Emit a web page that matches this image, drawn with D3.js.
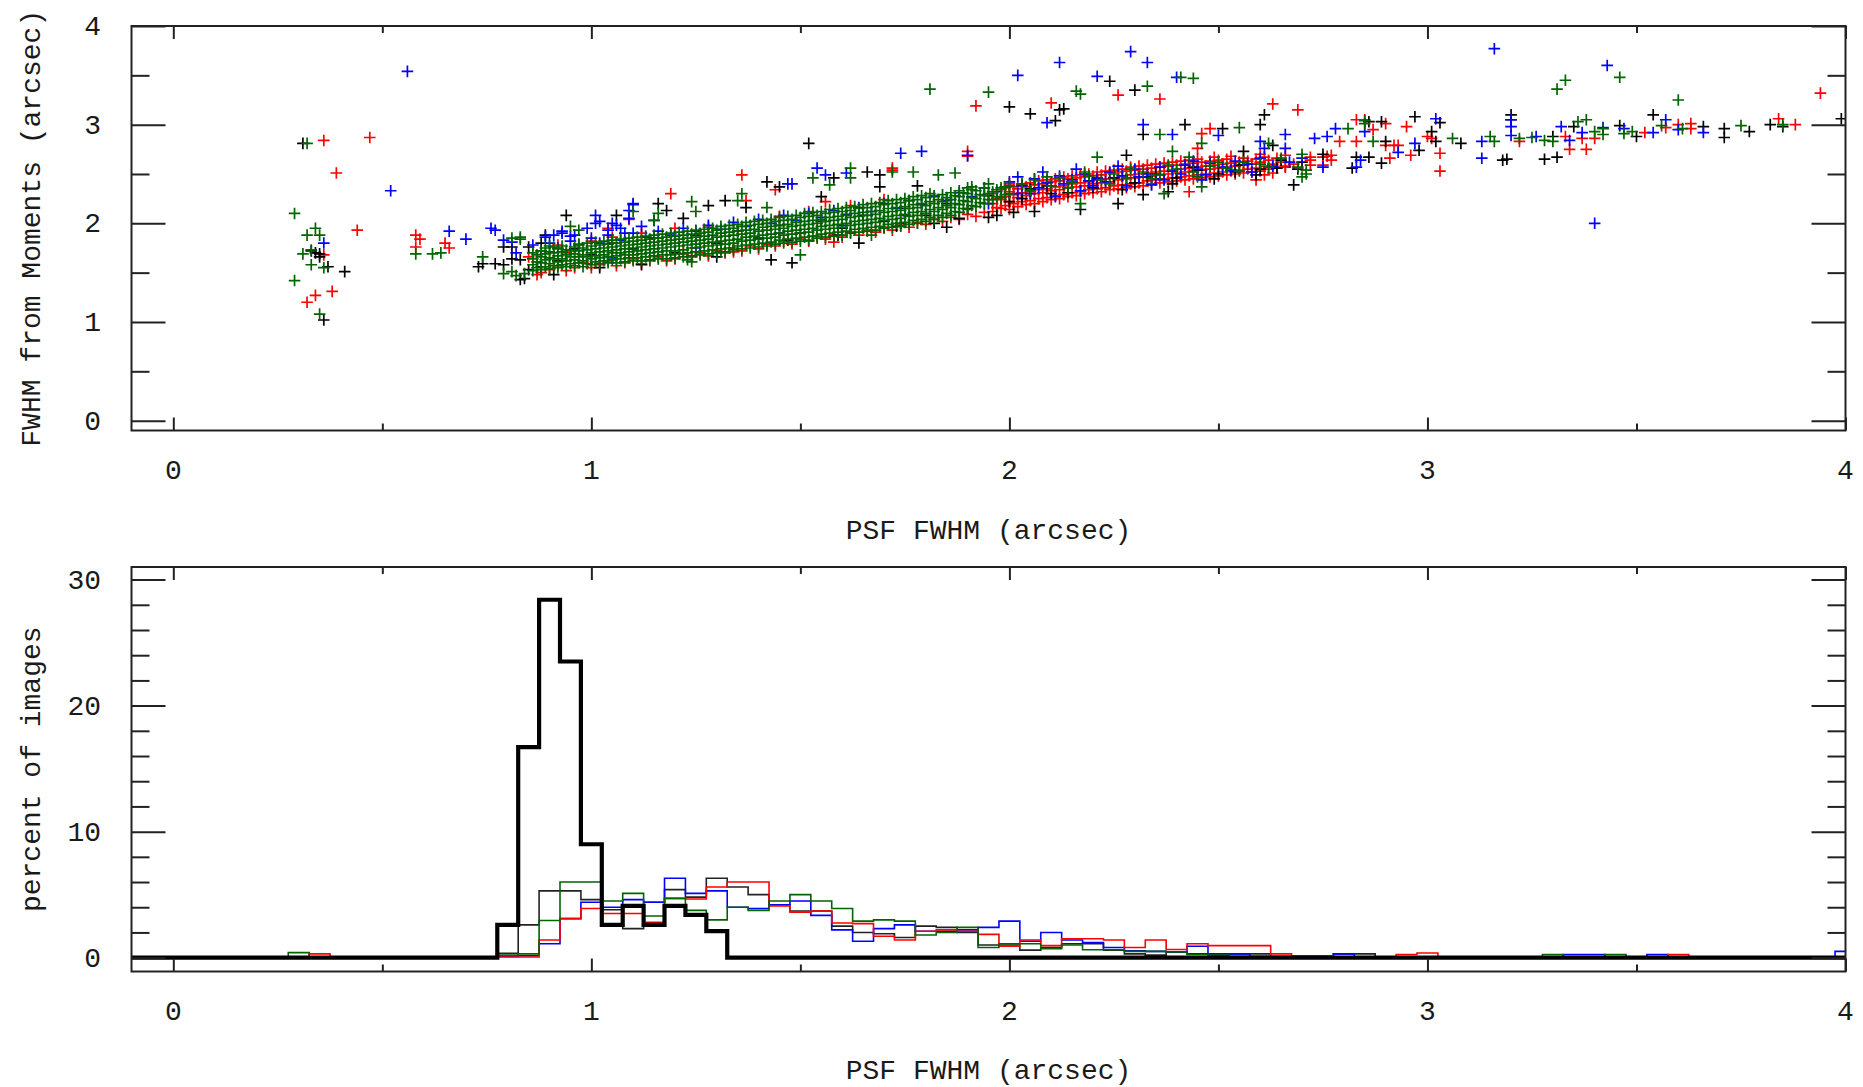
<!DOCTYPE html>
<html><head><meta charset="utf-8">
<script src="https://cdn.jsdelivr.net/npm/d3@7"></script>
<style>
html,body{margin:0;padding:0;background:#fff;}
text{font-family:"Liberation Mono","DejaVu Sans Mono",monospace;fill:#1a1a1a;font-size:28px;}
</style>
</head><body>
<svg id="chart" width="1863" height="1087"></svg>
<script>
// ---------------- axis ticks / labels ----------------
const xMajorTicks = [0, 1, 2, 3, 4];
const xMinorTicks = [0.5, 1.5, 2.5, 3.5];
const yTopMajor = [0, 1, 2, 3, 4];
const yTopMinor = [0.5, 1.5, 2.5, 3.5];
const yBotMajor = [0, 10, 20, 30];
const yBotMinor = [2, 4, 6, 8, 12, 14, 16, 18, 22, 24, 26, 28];
const xTitle = "PSF FWHM (arcsec)";
const yTopTitle = "FWHM from Moments (arcsec)";
const yBotTitle = "percent of images";

// ---------------- scatter data (x = PSF FWHM, y = moments FWHM) ----------------
const blackPts = [
0.31,2.81, 0.33,1.72, 0.35,1.69, 0.35,1.66, 0.37,1.56, 0.41,1.51, 0.36,1.02, 0.34,1.70,
0.73,1.56, 0.74,1.59, 0.79,1.58, 0.81,1.76, 0.83,1.63, 0.84,1.44, 0.85,1.76, 0.77,1.59,
0.79,1.76, 0.81,1.64, 0.83,1.43, 0.85,1.53, 0.88,1.80, 0.89,1.88, 0.94,2.08, 0.91,1.48,
1.52,2.81, 1.16,2.20, 1.18,2.13, 1.06,2.08, 1.28,2.18, 1.32,2.23, 1.42,2.42, 1.45,2.37,
1.58,2.46, 1.66,2.52, 1.43,1.63, 1.47,1.83, 1.59,1.88, 1.73,1.97,
2.00,3.18, 2.05,3.11, 2.12,3.15, 2.11,3.04, 2.30,3.35, 2.24,3.44, 2.32,2.90, 2.61,3.10,
2.60,3.00, 2.51,2.96, 2.28,2.69, 2.56,2.73, 2.68,2.39, 2.26,2.20, 2.32,2.29, 1.97,2.08,
2.01,2.11, 1.82,2.00, 1.88,2.05, 1.74,2.00, 1.69,2.49, 1.69,2.37, 2.63,2.79, 2.13,3.16,
2.82,2.56, 2.83,2.67, 2.86,2.67, 2.89,2.61, 2.90,2.83, 2.86,3.03, 2.89,3.03, 2.97,3.08,
3.03,3.02, 3.01,2.93, 3.02,2.83, 2.98,2.74, 3.08,2.81, 3.18,2.64, 3.19,2.65, 3.20,3.10,
3.20,3.05, 3.28,2.65, 3.31,2.67, 3.30,2.88, 3.35,2.98, 3.46,2.99, 3.50,2.88, 3.54,3.10,
3.66,2.98, 3.71,2.96, 3.71,2.87, 3.77,2.93, 3.82,3.00, 3.85,2.98, 3.99,3.06,
0.88,1.56, 0.92,1.62, 0.96,1.74, 1.00,1.68, 1.05,1.80, 1.10,1.74, 1.15,1.85, 1.20,1.70,
1.25,1.88, 1.30,1.80, 1.35,1.92, 1.40,1.85, 1.45,1.98, 1.50,1.90, 1.55,2.02, 1.60,1.95,
1.65,2.08, 1.70,2.02, 1.75,2.15, 1.80,2.08, 1.85,2.20, 1.90,2.15, 1.95,2.28, 2.00,2.22,
2.05,2.35, 2.10,2.30, 2.15,2.42, 2.20,2.36, 2.25,2.46, 2.30,2.41, 2.35,2.50, 2.40,2.46,
2.45,2.54, 2.50,2.50, 2.55,2.59, 2.60,2.55, 2.65,2.64, 2.70,2.62, 2.75,2.70,
1.48,1.60, 1.64,1.80, 2.06,2.12, 2.42,3.00, 1.02,1.55, 1.12,1.58, 1.30,1.66, 1.95,2.06,
1.37,2.16, 1.22,2.05, 1.55,2.27, 1.78,2.38, 1.85,1.96, 2.17,2.14, 2.38,2.32,
2.03,2.25, 2.09,2.38, 2.14,2.31, 2.21,2.45, 2.27,2.34, 2.33,2.47, 2.39,2.40, 2.44,2.57,
2.49,2.45, 2.54,2.52, 2.59,2.49, 2.64,2.56, 2.69,2.55
];

const bluePts = [
0.56,3.54, 0.52,2.33, 0.36,1.80, 0.66,1.92, 0.70,1.84, 0.76,1.95, 0.77,1.93, 0.81,1.81,
0.79,1.83, 0.82,1.70, 0.91,1.88, 0.93,1.90, 0.95,1.87, 1.01,2.08, 1.02,2.02, 1.10,2.20,
1.09,2.13, 1.05,2.00, 1.07,1.95, 1.08,1.90, 1.54,2.56, 1.56,2.49, 1.48,2.40, 1.61,2.51,
1.74,2.71, 1.79,2.73, 1.90,2.69, 1.10,2.19, 1.15,2.03, 1.47,2.40,
2.29,3.74, 2.12,3.63, 2.33,3.63, 2.02,3.50, 2.21,3.49, 2.40,3.48, 2.09,3.02, 2.32,3.00,
2.39,2.90, 2.50,2.89, 2.60,2.83, 2.66,2.90, 3.16,3.77, 3.43,3.60, 3.40,2.00,
2.61,2.76, 2.66,2.76, 2.73,2.86, 2.76,2.88, 2.78,2.96, 2.75,2.57, 2.83,2.57, 2.84,2.64,
2.85,2.93, 2.93,2.72, 2.97,2.81, 3.02,3.06, 3.13,2.83, 3.13,2.66, 3.20,3.05, 3.20,2.98,
3.20,2.89, 3.26,2.88, 3.32,2.98, 3.34,2.84, 3.37,2.92, 3.42,2.97, 3.47,2.96, 3.54,2.92,
3.57,3.05, 3.60,2.95, 3.66,2.92,
0.86,1.78, 0.88,1.72, 0.90,1.80, 0.92,1.75, 0.95,1.82, 0.97,1.78, 1.00,1.85, 1.02,1.80,
1.04,1.88, 1.07,1.83, 1.10,1.90, 1.13,1.86, 1.16,1.92, 1.19,1.88, 1.22,1.95, 1.25,1.92,
1.28,1.98, 1.31,1.94, 1.34,2.01, 1.37,1.97, 1.40,2.04, 1.43,2.00, 1.46,2.08, 1.49,2.03,
1.52,2.10, 1.55,2.06, 1.58,2.13, 1.61,2.09, 1.64,2.16, 1.67,2.12, 1.70,2.20, 1.73,2.15,
1.76,2.23, 1.79,2.19, 1.82,2.27, 1.85,2.23, 1.88,2.31, 1.91,2.27, 1.94,2.36, 1.97,2.32,
2.00,2.42, 2.03,2.38, 2.06,2.45, 2.09,2.41, 2.12,2.48, 2.15,2.44, 2.18,2.50, 2.21,2.46,
2.24,2.52, 2.27,2.48, 2.30,2.55, 2.33,2.50, 2.36,2.57, 2.39,2.53, 2.42,2.59, 2.45,2.55,
2.48,2.61, 2.51,2.57, 2.54,2.63, 2.57,2.60, 2.60,2.66,
1.05,1.65, 1.25,1.75, 1.45,1.90, 1.60,1.98, 1.75,2.08, 1.95,2.20, 2.05,2.30, 2.20,2.38,
2.35,2.45, 0.89,1.86, 0.93,1.92, 0.96,1.88, 0.99,1.95, 1.01,2.00, 1.04,1.93, 1.06,1.98,
1.09,2.05, 1.12,1.97, 2.08,2.52, 2.16,2.55, 2.26,2.58, 2.02,2.47, 2.44,2.63,
2.02,2.30, 2.07,2.36, 2.13,2.40, 2.17,2.33, 2.23,2.42, 2.28,2.38, 2.31,2.47, 2.37,2.44,
2.41,2.50, 2.47,2.49, 2.53,2.54, 2.58,2.52, 2.63,2.58, 2.67,2.62, 2.70,2.66, 2.11,2.27,
2.19,2.43, 2.34,2.39, 2.46,2.44
];

const redPts = [
0.36,2.84, 0.47,2.87, 0.39,2.51, 0.44,1.93, 0.36,1.68, 0.32,1.20, 0.34,1.27, 0.38,1.31,
0.58,1.88, 0.59,1.84, 0.58,1.76, 0.65,1.80, 0.66,1.75,
1.36,2.49, 1.19,2.30, 1.37,2.23, 1.04,1.95, 1.09,2.04, 0.94,1.70, 0.85,1.66, 0.87,1.48,
1.44,2.34, 1.56,2.22, 1.72,2.54, 1.58,1.81, 1.34,1.71, 1.42,1.79,
1.92,3.19, 2.10,3.22, 2.26,3.30, 2.36,3.26, 2.63,3.21, 2.69,3.15, 1.90,2.73, 1.90,2.68,
2.48,2.96, 2.46,2.91, 2.45,2.76, 1.72,2.56, 2.85,3.05, 2.87,2.95, 2.83,2.83, 2.92,2.79,
2.91,2.66, 2.75,2.67, 2.77,2.69, 2.77,2.64, 2.72,2.67, 2.72,2.64, 2.43,2.32,
2.83,3.05, 2.90,3.01, 2.95,2.98, 3.00,2.88, 3.01,2.86, 3.03,2.71, 3.03,2.53, 2.96,2.69,
2.72,2.59, 2.76,2.68, 2.75,2.59, 2.59,2.44, 2.61,2.49, 2.63,2.51, 2.66,2.57, 2.79,2.83,
2.90,2.79, 2.93,2.79, 3.22,2.83, 3.34,2.75, 3.38,2.75, 3.33,2.88, 3.37,2.86, 3.40,2.86,
3.52,2.92, 3.57,2.97, 3.60,3.00, 3.63,3.01, 3.84,3.06, 3.88,3.00, 3.94,3.32, 3.63,2.96,
0.88,1.50, 0.90,1.53, 0.92,1.57, 0.94,1.52, 0.96,1.55, 0.98,1.60, 1.00,1.55, 1.02,1.58,
1.04,1.62, 1.06,1.57, 1.08,1.60, 1.10,1.64, 1.12,1.59, 1.14,1.62, 1.16,1.66, 1.18,1.62,
1.20,1.64, 1.22,1.69, 1.24,1.66, 1.26,1.70, 1.28,1.67, 1.30,1.72, 1.32,1.70, 1.34,1.75,
1.36,1.72, 1.38,1.77, 1.40,1.74, 1.42,1.79, 1.44,1.77, 1.46,1.82, 1.48,1.79, 1.50,1.84,
1.52,1.82, 1.54,1.87, 1.56,1.84, 1.58,1.88, 1.60,1.86, 1.62,1.91, 1.64,1.88, 1.66,1.93,
1.68,1.91, 1.70,1.96, 1.72,1.93, 1.74,1.98, 1.76,1.96, 1.78,2.01, 1.80,1.99, 1.82,2.04,
1.84,2.02, 1.86,2.06, 1.88,2.04, 1.90,2.09, 1.92,2.07, 1.94,2.11,
0.92,1.78, 1.00,1.82, 1.05,1.86, 1.12,1.90, 1.20,1.95, 1.28,1.96, 1.45,2.07, 1.52,2.12,
1.62,2.18, 1.70,2.24
];
// dense red columns: [x, y1, y2, ...]
const redCols = [
[1.96,2.12,2.20,2.30],[1.98,2.15,2.24,2.34],[2.00,2.14,2.22,2.32,2.40],[2.02,2.17,2.26,2.35],
[2.04,2.19,2.28,2.37],[2.06,2.20,2.30,2.39],[2.08,2.22,2.31,2.40],[2.10,2.24,2.33,2.42],
[2.12,2.25,2.34,2.43],[2.14,2.27,2.36,2.45],[2.16,2.28,2.37,2.46],[2.18,2.30,2.38,2.47],
[2.20,2.31,2.40,2.48],[2.22,2.32,2.41,2.49],[2.24,2.34,2.42,2.51],[2.26,2.35,2.44,2.52],
[2.28,2.36,2.45,2.53],[2.30,2.37,2.46,2.54],[2.32,2.38,2.47,2.55],[2.34,2.40,2.48,2.56],
[2.36,2.41,2.49,2.57],[2.38,2.42,2.50,2.58],[2.40,2.43,2.51,2.59],[2.42,2.44,2.52,2.60],
[2.44,2.45,2.53,2.61],[2.46,2.46,2.54,2.62],[2.48,2.47,2.55,2.63],[2.50,2.48,2.56,2.64],
[2.52,2.49,2.57,2.65],[2.54,2.50,2.58],[2.56,2.51,2.59,2.66],[2.58,2.52,2.60],
[2.60,2.53,2.62,2.70],[2.62,2.55,2.64],[2.64,2.57,2.66],[2.66,2.58,2.69],[2.68,2.60],
[1.97,2.16,2.25],[1.99,2.18,2.27,2.36],[2.01,2.20,2.29,2.37],[2.03,2.22,2.31,2.39],
[2.05,2.23,2.32,2.41],[2.07,2.25,2.34,2.43],[2.09,2.26,2.35,2.44],[2.11,2.28,2.37,2.45],
[2.13,2.29,2.38,2.47],[2.15,2.31,2.40,2.48],[2.17,2.32,2.41,2.49],[2.19,2.34,2.42,2.50],
[2.21,2.35,2.44,2.52],[2.23,2.36,2.45,2.53],[2.25,2.38,2.46,2.54],[2.27,2.39,2.48,2.55],
[2.29,2.40,2.49,2.57],[2.31,2.41,2.50,2.58],[2.33,2.43,2.51,2.59],[2.35,2.44,2.52,2.60],
[2.37,2.45,2.53,2.61],[2.39,2.46,2.54,2.62],[2.41,2.47,2.55,2.63],[2.43,2.48,2.56,2.64],
[2.45,2.49,2.57,2.65],[2.47,2.50,2.58],[2.49,2.51,2.59,2.67],[2.51,2.52,2.60],
[2.53,2.53,2.61,2.68],[2.55,2.54,2.62],[2.57,2.55,2.63],[2.59,2.56,2.65],[2.61,2.58,2.67],
[2.63,2.60],[2.65,2.62]
];

const greenPts = [
0.29,2.10, 0.29,1.42, 0.32,2.81, 0.34,1.95, 0.32,1.88, 0.35,1.88, 0.31,1.69, 0.33,1.58,
0.36,1.55, 0.35,1.08, 0.33,1.73, 0.58,1.69, 0.62,1.69, 0.64,1.70, 0.74,1.66, 0.79,1.49,
0.81,1.51, 0.82,1.47, 0.84,1.49, 0.83,1.84, 0.81,1.85, 0.83,1.86, 0.95,1.97, 0.97,1.93,
1.10,2.12, 1.15,2.03, 1.16,2.10, 1.24,2.22, 1.25,2.12, 1.35,2.23, 1.36,2.30, 1.42,2.16,
1.53,2.46, 1.57,2.39, 1.62,2.56, 1.62,2.46, 1.67,1.88, 1.50,1.68, 1.23,1.63, 1.24,1.61,
1.31,1.71, 1.72,2.52, 1.77,2.52, 1.83,2.49, 1.87,2.51, 1.91,2.37, 1.95,2.40,
1.81,3.36, 1.95,3.33, 2.16,3.34, 2.17,3.31, 2.33,3.39, 2.39,2.73, 2.36,2.90, 2.55,2.97,
2.46,2.81, 2.43,2.67, 2.71,2.54, 2.70,2.47, 2.85,3.01, 2.87,2.83, 2.17,2.20, 2.21,2.67,
2.37,2.30, 2.46,2.37, 2.41,3.48, 2.44,3.47,
2.81,2.96, 2.85,3.04, 2.69,2.57, 2.71,2.50, 2.62,2.81, 3.15,2.88, 3.16,2.83, 3.22,2.86,
3.25,2.87, 3.28,2.84, 3.30,2.83, 3.36,3.03, 3.38,3.05, 3.40,2.93, 3.42,2.96, 3.47,2.91,
3.49,2.93, 3.56,2.99, 3.61,2.96, 3.75,2.99, 3.85,3.00, 3.06,2.86, 3.31,3.36, 3.33,3.45,
3.46,3.48, 3.60,3.25, 3.42,2.90,
2.03,2.40, 2.06,2.44, 2.10,2.38, 2.12,2.46, 2.15,2.42, 2.19,2.48, 2.22,2.44, 2.25,2.50,
2.28,2.46, 2.32,2.52, 2.36,2.49, 2.40,2.55, 2.44,2.52, 2.48,2.58, 2.52,2.56, 2.56,2.62,
2.60,2.60, 2.65,2.66, 2.70,2.70,
2.05,2.33, 2.09,2.47, 2.14,2.36, 2.18,2.52, 2.24,2.40, 2.29,2.55, 2.34,2.45, 2.38,2.59,
2.45,2.47, 2.50,2.62, 2.55,2.53, 2.62,2.57
];
// dense green columns: [x, y1, y2, ...]
const greenCols = [
[0.86,1.52,1.58,1.64,1.70],[0.88,1.53,1.60,1.66,1.72],[0.90,1.54,1.59,1.65,1.71,1.77],
[0.92,1.55,1.61,1.67,1.74],[0.94,1.56,1.62,1.68,1.73],[0.96,1.57,1.63,1.69,1.76],
[0.98,1.56,1.62,1.68,1.75],[1.00,1.58,1.64,1.70,1.77],[1.02,1.59,1.65,1.71,1.78],
[1.04,1.60,1.66,1.72,1.79],[1.06,1.60,1.67,1.73,1.80],[1.08,1.61,1.68,1.74,1.81],
[1.10,1.62,1.68,1.75,1.82],[1.12,1.62,1.69,1.76,1.83],[1.14,1.63,1.70,1.77,1.84],
[1.16,1.64,1.71,1.78,1.85],[1.18,1.64,1.72,1.79,1.86],[1.20,1.65,1.72,1.80,1.87],
[1.22,1.66,1.73,1.81,1.88],[1.24,1.67,1.75,1.82,1.89],[1.26,1.68,1.76,1.83,1.90],
[1.28,1.69,1.77,1.84,1.91],[1.30,1.70,1.78,1.86,1.93],[1.32,1.71,1.79,1.87,1.94],
[1.34,1.73,1.80,1.88,1.95],[1.36,1.74,1.82,1.89,1.97],[1.38,1.75,1.83,1.90,1.98],
[1.40,1.76,1.84,1.92,1.99],[1.42,1.77,1.85,1.93,2.00],[1.44,1.79,1.86,1.94,2.02],
[1.46,1.80,1.88,1.95,2.03],[1.48,1.81,1.89,1.97,2.04],[1.50,1.82,1.90,1.98,2.06],
[1.52,1.83,1.91,1.99,2.07],[1.54,1.85,1.93,2.00,2.08],[1.56,1.86,1.94,2.02,2.10],
[1.58,1.87,1.95,2.03,2.11],[1.60,1.88,1.96,2.04,2.12],[1.62,1.90,1.98,2.06,2.13],
[1.64,1.91,1.99,2.07,2.15],[1.66,1.92,2.00,2.08,2.16],[1.68,1.93,2.01,2.09,2.17],
[1.70,1.95,2.03,2.11,2.19],[1.72,1.96,2.04,2.12,2.20],[1.74,1.97,2.05,2.13,2.21],
[1.76,1.99,2.07,2.15,2.23],[1.78,2.00,2.08,2.16,2.24],[1.80,2.02,2.10,2.18,2.26],
[1.82,2.04,2.12,2.20,2.28],[1.84,2.06,2.14,2.22,2.29],[1.86,2.08,2.16,2.24,2.31],
[1.88,2.11,2.19,2.27,2.33],[1.90,2.14,2.22,2.30,2.36],[1.92,2.17,2.25,2.33],
[1.94,2.20,2.28,2.36],[1.96,2.24,2.32],[1.98,2.26,2.36],[2.00,2.30,2.38],
[0.87,1.55,1.61,1.68],[0.89,1.56,1.63,1.69,1.75],[0.91,1.57,1.64,1.70,1.76],
[0.93,1.58,1.64,1.71,1.77],[0.95,1.59,1.66,1.72],[0.97,1.60,1.66,1.72,1.79],
[0.99,1.59,1.66,1.73,1.80],[1.01,1.61,1.67,1.74,1.81],[1.03,1.62,1.68,1.75,1.82],
[1.05,1.63,1.70,1.76,1.83],[1.07,1.64,1.70,1.77,1.84],[1.09,1.65,1.71,1.78,1.85],
[1.11,1.65,1.72,1.79,1.86],[1.13,1.66,1.73,1.80,1.87],[1.15,1.67,1.74,1.81,1.88],
[1.17,1.68,1.75,1.82,1.89],[1.19,1.68,1.76,1.83,1.90],[1.21,1.69,1.77,1.84,1.91],
[1.23,1.70,1.78,1.85,1.92],[1.25,1.71,1.79,1.86,1.93],[1.27,1.72,1.80,1.87,1.94],
[1.29,1.73,1.81,1.88,1.95],[1.31,1.74,1.82,1.90,1.97],[1.33,1.75,1.83,1.91,1.98],
[1.35,1.77,1.84,1.92,1.99],[1.37,1.78,1.86,1.93,2.01],[1.39,1.79,1.87,1.94,2.02],
[1.41,1.80,1.88,1.96,2.03],[1.43,1.81,1.89,1.97,2.04],[1.45,1.83,1.90,1.98,2.06],
[1.47,1.84,1.92,1.99,2.07],[1.49,1.85,1.93,2.01,2.08],[1.51,1.86,1.94,2.02,2.10],
[1.53,1.87,1.95,2.03,2.11],[1.55,1.89,1.97,2.04,2.12],[1.57,1.90,1.98,2.06,2.14],
[1.59,1.91,1.99,2.07,2.15],[1.61,1.92,2.00,2.08,2.16],[1.63,1.94,2.02,2.10,2.17],
[1.65,1.95,2.03,2.11,2.19],[1.67,1.96,2.04,2.12,2.20],[1.69,1.97,2.05,2.13,2.21],
[1.71,1.99,2.07,2.15,2.23],[1.73,2.00,2.08,2.16,2.24],[1.75,2.01,2.09,2.17,2.25],
[1.77,2.03,2.11,2.19,2.27],[1.79,2.04,2.12,2.20,2.28],[1.81,2.06,2.14,2.22,2.30],
[1.83,2.08,2.16,2.24],[1.85,2.10,2.18,2.26],[1.87,2.12,2.20,2.28],[1.89,2.15,2.23,2.31],
[1.91,2.18,2.26,2.34],[1.93,2.21,2.29],[1.95,2.24,2.30],[1.97,2.27,2.34],[1.99,2.29,2.37]
];

// ---------------- histogram data: [bin centre, percent] (bin width 0.05; unlisted bins = 0) ----------------
const histAll = [[0.80,2.6],[0.85,16.7],[0.90,28.4],[0.95,23.5],[1.00,9.0],[1.05,2.6],[1.10,4.1],
[1.15,2.6],[1.20,4.1],[1.25,3.4],[1.30,2.1]];
const histBlack = [[0.80,0.35],[0.85,2.6],[0.90,5.3],[0.95,5.3],[1.00,4.6],[1.05,3.8],[1.10,2.3],
[1.15,4.4],[1.20,5.4],[1.25,4.8],[1.30,6.3],[1.35,5.6],[1.40,5.0],[1.45,4.2],[1.50,3.7],[1.55,3.7],
[1.60,2.5],[1.65,2.0],[1.70,1.9],[1.75,1.6],[1.80,2.5],[1.85,2.4],[1.90,2.0],[1.95,1.0],[2.00,1.0],
[2.05,0.6],[2.10,0.8],[2.15,1.1],[2.20,1.1],[2.25,0.6],[2.30,0.3],[2.35,0.2],[2.40,0.45],[2.45,0.3],
[2.50,0.3],[2.55,0.3],[2.60,0.3],[2.65,0.1],[2.70,0.1],[2.80,0.3],[2.85,0.3]];
const histRed = [[0.35,0.3],[0.80,0.05],[0.85,0.05],[0.90,1.4],[0.95,3.1],[1.00,3.9],[1.05,3.5],
[1.10,3.5],[1.15,2.8],[1.20,4.7],[1.25,4.65],[1.30,5.6],[1.35,6.0],[1.40,6.0],[1.45,4.1],[1.50,3.6],
[1.55,3.7],[1.60,2.75],[1.65,2.7],[1.70,1.7],[1.75,1.4],[1.80,2.1],[1.85,2.2],[1.90,2.1],[1.95,1.85],
[2.00,0.9],[2.05,1.4],[2.10,0.95],[2.15,1.5],[2.20,1.5],[2.25,1.4],[2.30,0.8],[2.35,1.4],[2.40,0.65],
[2.45,1.1],[2.50,0.95],[2.55,0.95],[2.60,0.95],[2.65,0.3],[2.70,0.15],[2.75,0.15],[2.95,0.25],
[3.00,0.37],[3.60,0.25]];
const histBlue = [[0.80,0.1],[0.85,0.15],[0.90,1.1],[0.95,3.1],[1.00,4.4],[1.05,4.0],[1.10,4.6],
[1.15,4.4],[1.20,6.3],[1.25,5.1],[1.30,5.3],[1.35,4.0],[1.40,3.9],[1.45,4.2],[1.50,4.5],[1.55,3.35],
[1.60,2.2],[1.65,1.3],[1.70,2.3],[1.75,2.6],[1.80,2.1],[1.85,2.1],[1.90,2.2],[1.95,2.4],[2.00,2.9],
[2.05,1.3],[2.10,2.0],[2.15,1.4],[2.20,1.2],[2.25,0.8],[2.30,0.55],[2.35,0.5],[2.40,0.45],[2.45,0.9],
[2.50,0.3],[2.55,0.3],[2.60,0.1],[2.80,0.3],[3.35,0.25],[3.40,0.25],[3.55,0.25],[4.00,0.5]];
const histGreen = [[0.30,0.4],[0.80,0.2],[0.85,0.3],[0.90,2.95],[0.95,6.0],[1.00,6.0],[1.05,4.5],
[1.10,5.1],[1.15,3.3],[1.20,4.7],[1.25,3.75],[1.30,3.0],[1.35,4.0],[1.40,3.75],[1.45,4.5],[1.50,5.0],
[1.55,4.5],[1.60,3.9],[1.65,2.9],[1.70,3.0],[1.75,2.9],[1.80,1.8],[1.85,2.0],[1.90,2.4],[1.95,0.8],
[2.00,1.1],[2.05,1.1],[2.10,0.7],[2.15,1.0],[2.20,0.63],[2.25,0.63],[2.30,0.5],[2.35,0.5],[2.40,0.45],
[2.45,0.25],[2.50,0.2],[2.55,0.1],[3.30,0.25],[3.45,0.25]];

// ---------------- colours ----------------
const colBlack = "#000000", colRed = "#ff0000", colBlue = "#0000ff", colGreen = "#006400";
const frameCol = "#222";

// ---------------- layout ----------------
const svg = d3.select("#chart");
svg.append("rect").attr("width",1863).attr("height",1087).attr("fill","#fff");

const L = 131.5, R = 1845.5;
const top1 = 26, bot1 = 430.5;
const top2 = 567, bot2 = 971.5;

const x = d3.scaleLinear().domain([-0.1, 4]).range([L, R]);
const yTop = d3.scaleLinear().domain([-0.1, 4]).range([bot1, top1]);
const yBot = d3.scaleLinear().domain([-1.1, 31]).range([bot2, top2]);

function pairs(flat){ const out=[]; for(let i=0;i<flat.length;i+=2) out.push([flat[i],flat[i+1]]); return out; }
function cols(c){ const out=[]; c.forEach(r=>{ for(let i=1;i<r.length;i++) out.push([r[0],r[i]]); }); return out; }

function frame(top, bot, y, yMaj, yMin){
  const g = svg.append("g");
  const ax = [
    [d3.axisBottom(x).tickValues(xMajorTicks).tickSize(-13), `translate(0,${bot})`],
    [d3.axisBottom(x).tickValues(xMinorTicks).tickSize(-7), `translate(0,${bot})`],
    [d3.axisTop(x).tickValues(xMajorTicks).tickSize(-13), `translate(0,${top})`],
    [d3.axisTop(x).tickValues(xMinorTicks).tickSize(-7), `translate(0,${top})`],
    [d3.axisLeft(y).tickValues(yMaj).tickSize(-34), `translate(${L},0)`],
    [d3.axisLeft(y).tickValues(yMin).tickSize(-18), `translate(${L},0)`],
    [d3.axisRight(y).tickValues(yMaj).tickSize(-34), `translate(${R},0)`],
    [d3.axisRight(y).tickValues(yMin).tickSize(-18), `translate(${R},0)`]
  ];
  ax.forEach(([a,t])=>{
    const s = g.append("g").attr("transform",t).call(a.tickFormat(""));
    s.select(".domain").remove();
    s.selectAll("line").attr("stroke",frameCol).attr("stroke-width",2);
  });
  g.append("rect").attr("x",L).attr("y",top).attr("width",R-L).attr("height",bot-top)
    .attr("fill","none").attr("stroke",frameCol).attr("stroke-width",2);
  g.selectAll("text.xl").data(xMajorTicks).join("text").attr("class","xl")
    .attr("x",d=>x(d)).attr("y",bot+48).attr("text-anchor","middle").text(d=>d);
  g.selectAll("text.yl").data(yMaj).join("text").attr("class","yl")
    .attr("x",101).attr("y",d=>y(d)+9).attr("text-anchor","end").text(d=>d);
}

svg.append("defs").html(
  `<clipPath id="c1"><rect x="${L}" y="${top1}" width="${R-L}" height="${bot1-top1}"/></clipPath>`+
  `<clipPath id="c2"><rect x="${L}" y="${top2}" width="${R-L}" height="${bot2-top2}"/></clipPath>`);

// ---- top panel: scatter ----
const sc = svg.append("g").attr("clip-path","url(#c1)");
const arm = 5.8;
function plus(data, col){
  sc.append("g").selectAll("path").data(data).join("path")
    .attr("d", d => { const px = x(d[0]), py = yTop(d[1]);
      return `M${px-arm},${py}H${px+arm}M${px},${py-arm}V${py+arm}`; })
    .attr("stroke", col).attr("stroke-width", 1.7).attr("fill","none");
}
plus(pairs(redPts).concat(cols(redCols)), colRed);
plus(pairs(blackPts), colBlack);
plus(pairs(bluePts), colBlue);
plus(pairs(greenPts).concat(cols(greenCols)), colGreen);

frame(top1, bot1, yTop, yTopMajor, yTopMinor);

// ---- bottom panel: histograms ----
const hg = svg.append("g").attr("clip-path","url(#c2)");
function stepPts(h){
  const m = new Map(h.map(d=>[Math.round(d[0]*100), d[1]]));
  const pts = [];
  for(let k=-2;k<=80;k++){ const c=k*5; pts.push([(c-2.5)/100, m.get(c)||0]); }
  pts.push([4.025, m.get(400)||0]);
  return pts;
}
const line = d3.line().x(d=>x(d[0])).y(d=>yBot(d[1])).curve(d3.curveStepAfter);
function hist(h, col, w){
  hg.append("path").attr("d", line(stepPts(h))).attr("fill","none")
    .attr("stroke",col).attr("stroke-width",w).attr("stroke-linejoin","miter");
}
hist(histBlack, "#222", 1.6);
hist(histBlue, colBlue, 1.6);
hist(histRed, colRed, 1.6);
hist(histGreen, colGreen, 1.6);
hist(histAll, colBlack, 4.2);

frame(top2, bot2, yBot, yBotMajor, yBotMinor);

// ---- titles ----
svg.append("text").attr("x",(L+R)/2).attr("y",539).attr("text-anchor","middle").text(xTitle);
svg.append("text").attr("x",(L+R)/2).attr("y",1079).attr("text-anchor","middle").text(xTitle);
svg.append("text").attr("transform",`translate(40,${(top1+bot1)/2}) rotate(-90)`).attr("text-anchor","middle").text(yTopTitle);
svg.append("text").attr("transform",`translate(40,${(top2+bot2)/2}) rotate(-90)`).attr("text-anchor","middle").text(yBotTitle);
</script>
</body></html>
